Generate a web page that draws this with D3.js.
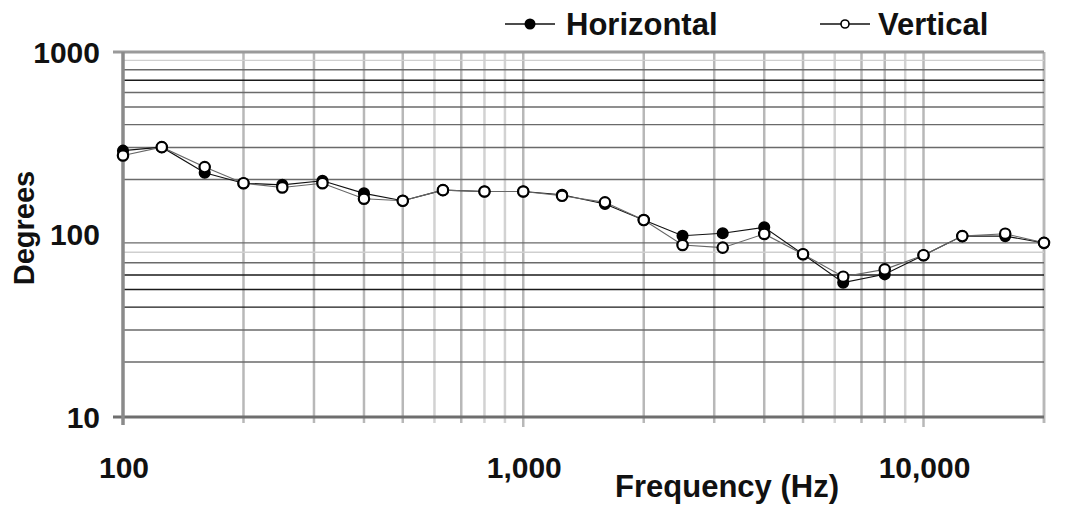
<!DOCTYPE html>
<html>
<head>
<meta charset="UTF-8">
<style>
  body { margin: 0; background: #fff; }
  text { font-family: "Liberation Sans", Arial, sans-serif; font-weight: bold; fill: #111; }
</style>
</head>
<body>
<svg width="1068" height="518"></svg>
<script src="https://cdn.jsdelivr.net/npm/d3@7"></script>
<script>

// third-octave centre frequencies (Hz)
var freqs = [100, 125, 160, 200, 250, 315, 400, 500, 630, 800, 1000, 1250,
  1600, 2000, 2500, 3150, 4000, 5000, 6300, 8000, 10000, 12500, 16000, 20000];

// degrees
var horizontal = [288, 301, 218, 191, 187, 197, 168, 153, 175, 172, 172, 165,
  147, 120, 98.5, 101.5, 109.5, 78, 54.5, 60.5, 77, 98, 98, 90];
var vertical = [271, 301, 234, 191, 181, 191, 157, 153, 175, 172, 172, 163,
  150, 120, 87.6, 84.7, 100.7, 78, 58.7, 64.4, 77, 98, 101, 90];

var xLabels = ["100", "1,000", "10,000"];
var yLabels = ["10", "100", "1000"];

var svg = d3.select("svg"),
  margin = {top: 52, right: 24, bottom: 101, left: 123},
  width = +svg.attr("width") - margin.left - margin.right,
  height = +svg.attr("height") - margin.top - margin.bottom,
  g = svg.append("g").attr("transform", "translate(" + margin.left + "," + margin.top + ")");

var x = d3.scaleLog()
  .domain([100, 20000])
  .range([0, width]);

var y = d3.scaleLog()
  .domain([10, 1000])
  .range([height, 0]);

// vertical grid
var xGrid = x.ticks().filter(function(d) { return d > 100; }).concat([20000]);
g.append("g")
  .selectAll("line")
  .data(xGrid)
  .enter().append("line")
    .attr("x1", function(d) { return x(d); })
    .attr("x2", function(d) { return x(d); })
    .attr("y1", 0)
    .attr("y2", function(d) { return height + (d == 1000 || d == 10000 ? 10 : 6); })
    .attr("stroke", function(d) { return [600, 800, 900, 6000, 9000].indexOf(d) >= 0 ? "#d2d2d2" : "#b8b8b8"; })
    .attr("stroke-width", 2.5);

// horizontal grid (no line drawn at 100 in the original)
var dark = [700, 60, 50, 40];
var light = [900, 80];
var yGrid = y.ticks().filter(function(d) { return d != 10 && d != 100 && d != 1000; });
g.append("g")
  .selectAll("line")
  .data(yGrid)
  .enter().append("line")
    .attr("x1", 0)
    .attr("x2", width)
    .attr("y1", function(d) { return y(d); })
    .attr("y2", function(d) { return y(d); })
    .attr("stroke", function(d) {
      if (dark.indexOf(d) >= 0) return "#1a1a1a";
      if (light.indexOf(d) >= 0) return "#cfcfcf";
      return "#6a6a6a";
    })
    .attr("stroke-width", 1.4);

// frame
g.append("line").attr("x1", -10).attr("x2", width).attr("y1", y(1000)).attr("y2", y(1000))
  .attr("stroke", "#9a9a9a").attr("stroke-width", 3);
g.append("line").attr("x1", -10).attr("x2", width).attr("y1", y(10)).attr("y2", y(10))
  .attr("stroke", "#6e6e6e").attr("stroke-width", 3);
g.append("line").attr("x1", x(100)).attr("x2", x(100)).attr("y1", 0).attr("y2", height + 8)
  .attr("stroke", "#8a8a8a").attr("stroke-width", 3.5);

// axis labels
g.append("g")
  .selectAll("text")
  .data(yLabels)
  .enter().append("text")
    .attr("x", -23)
    .attr("y", function(d) { return y(+d); })
    .attr("dy", "0.36em")
    .attr("text-anchor", "end")
    .style("font-size", "30px")
    .text(function(d) { return d; });

g.append("g")
  .selectAll("text")
  .data(xLabels)
  .enter().append("text")
    .attr("x", function(d) { return x(+d.replace(/,/g, "")) + 1; })
    .attr("y", height + 61)
    .attr("text-anchor", "middle")
    .style("font-size", "30px")
    .text(function(d) { return d; });

svg.append("text")
  .attr("x", 727)
  .attr("y", 497)
  .attr("text-anchor", "middle")
  .style("font-size", "31px")
  .text("Frequency (Hz)");

svg.append("text")
  .attr("transform", "translate(34,228) rotate(-90)")
  .attr("text-anchor", "middle")
  .style("font-size", "29px")
  .text("Degrees");

// series
var line = d3.line()
  .x(function(d, i) { return x(freqs[i]); })
  .y(function(d) { return y(d); });

g.append("path")
  .datum(horizontal)
  .attr("fill", "none")
  .attr("stroke", "#111")
  .attr("stroke-width", 1.1)
  .attr("d", line);

g.append("path")
  .datum(vertical)
  .attr("fill", "none")
  .attr("stroke", "#666")
  .attr("stroke-width", 1.1)
  .attr("d", line);

g.append("g")
  .selectAll("circle")
  .data(horizontal)
  .enter().append("circle")
    .attr("cx", function(d, i) { return x(freqs[i]); })
    .attr("cy", function(d) { return y(d); })
    .attr("r", 5.3)
    .attr("fill", "#000")
    .attr("stroke", "#000")
    .attr("stroke-width", 1.5);

g.append("g")
  .selectAll("circle")
  .data(vertical)
  .enter().append("circle")
    .attr("cx", function(d, i) { return x(freqs[i]); })
    .attr("cy", function(d) { return y(d); })
    .attr("r", 5.2)
    .attr("fill", "#fff")
    .attr("stroke", "#000")
    .attr("stroke-width", 2.2);

// legend
var legend = svg.append("g");
legend.append("line").attr("x1", 505).attr("x2", 555).attr("y1", 24).attr("y2", 24)
  .attr("stroke", "#111").attr("stroke-width", 1.3);
legend.append("circle").attr("cx", 530).attr("cy", 24).attr("r", 5.5).attr("fill", "#000");
legend.append("text").attr("x", 566).attr("y", 35).style("font-size", "31px").text("Horizontal");

legend.append("line").attr("x1", 820).attr("x2", 870).attr("y1", 24).attr("y2", 24)
  .attr("stroke", "#111").attr("stroke-width", 1.3);
legend.append("circle").attr("cx", 845).attr("cy", 24).attr("r", 4)
  .attr("fill", "#fff").attr("stroke", "#000").attr("stroke-width", 1.6);
legend.append("text").attr("x", 878).attr("y", 35).style("font-size", "31px").text("Vertical");

</script>
</body>
</html>
